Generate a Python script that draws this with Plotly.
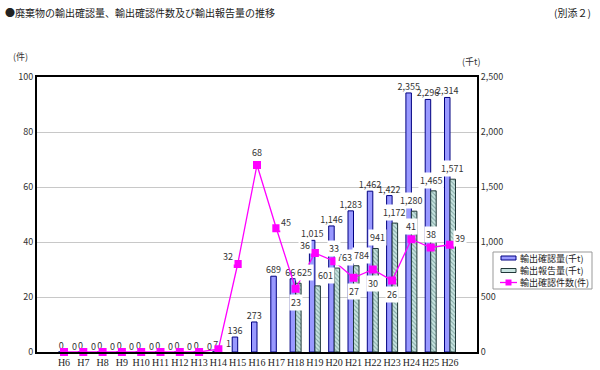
import plotly.graph_objects as go

years = ["H6", "H7", "H8", "H9", "H10", "H11", "H12", "H13", "H14", "H15", "H16",
         "H17", "H18", "H19", "H20", "H21", "H22", "H23", "H24", "H25", "H26"]
confirmed_kt = [0, 0, 0, 0, 0, 0, 0, 0, 7, 136, 273, 689, 666, 1015, 1146, 1283,
                1462, 1422, 2355, 2296, 2314]
reported_kt = [None, None, None, None, None, None, None, None, None, None, None, None,
               625, 601, 763, 784, 941, 1172, 1280, 1465, 1571]
cases = [0, 0, 0, 0, 0, 0, 0, 0, 1, 32, 68, 45, 23, 36, 33, 27, 30, 26, 41, 38, 39]
series_names = ["輸出確認量(千t)", "輸出報告量(千t)", "輸出確認件数(件)"]

# label placement (style only)
case_label_side = ["right"] * 9 + ["left", "top", "right", "bottom", "left", "top",
                                   "bottom", "bottom", "bottom", "top", "top", "right"]
side_shift = {"right": (10, 6), "left": (-10, 8), "top": (0, 13), "bottom": (0, -14)}
report_label_dx = [None] * 12 + [9, 11, 10, 8, 5, 2, 0, 0, 2]

FONT = "Noto Sans CJK JP"
BLUE, BLUE_EDGE = "#9999FF", "#000080"
TEAL, TEAL_EDGE = "#C8E4E0", "#203838"
MAGENTA = "#FF00FF"

# plot-area geometry in pixels (for converting legend box positions)
L, R, T, B, W, H = 37, 123, 77, 18, 600, 370
PW, PH = W - L - R, H - T - B


def px(x):
    return (x - L) / PW


def py(y):
    return (H - B - y) / PH


fig = go.Figure()
fig.add_trace(go.Bar(
    x=years, y=confirmed_kt, name=series_names[0], yaxis="y",
    marker=dict(color=BLUE, line=dict(color=BLUE_EDGE, width=1)),
    text=[f"{v:,}" for v in confirmed_kt], textposition="outside",
    textfont=dict(size=9, color="#333333", family=FONT), constraintext="none",
    cliponaxis=False,
))
fig.add_trace(go.Bar(
    x=years, y=reported_kt, name=series_names[1], yaxis="y",
    marker=dict(color=TEAL, line=dict(color=TEAL_EDGE, width=1),
                pattern=dict(shape="\\", fgcolor="#3E6B68", bgcolor=TEAL,
                             size=3, solidity=0.35)),
))
fig.add_trace(go.Scatter(
    x=years, y=cases, name=series_names[2], yaxis="y2", mode="lines+markers",
    line=dict(color=MAGENTA, width=1.3),
    marker=dict(symbol="square", size=8, color=MAGENTA),
    cliponaxis=False,
))

annotations = []
for x, v, dx in zip(years, reported_kt, report_label_dx):
    if v is None:
        continue
    annotations.append(dict(x=x, y=v, xref="x", yref="y", text=f"{v:,}",
                            showarrow=False, xshift=dx, yanchor="bottom", yshift=2,
                            bgcolor="white", borderpad=1,
                            font=dict(size=9, color="#333333", family=FONT)))
for x, v, side in zip(years, cases, case_label_side):
    dx, dy = side_shift[side]
    annotations.append(dict(x=x, y=v, xref="x", yref="y2", text=str(v),
                            showarrow=False, xshift=dx, yshift=dy,
                            bgcolor="white" if v > 1 else "rgba(0,0,0,0)", borderpad=1,
                            font=dict(size=9, color="#333333", family=FONT)))

annotations += [
    dict(x=px(3), y=py(3), xref="paper", yref="paper", xanchor="left", yanchor="top",
         showarrow=False, text="●廃棄物の輸出確認量、輸出確認件数及び輸出報告量の推移",
         font=dict(size=10, color="#222222", family=FONT)),
    dict(x=px(593), y=py(3), xref="paper", yref="paper", xanchor="right", yanchor="top",
         showarrow=False, text="(別添２)",
         font=dict(size=10, color="#222222", family=FONT)),
    dict(x=px(20), y=py(57), xref="paper", yref="paper", xanchor="center",
         yanchor="middle", showarrow=False, text="(件)",
         font=dict(size=9, color="#333333", family=FONT)),
    dict(x=px(471), y=py(61), xref="paper", yref="paper", xanchor="center",
         yanchor="middle", showarrow=False, text="(千t)",
         font=dict(size=9, color="#333333", family=FONT)),
]

# custom compact legend (box, swatches, labels)
shapes = [dict(type="rect", xref="paper", yref="paper", x0=px(493), x1=px(592),
               y0=py(289), y1=py(252), line=dict(color="#999999", width=1),
               fillcolor="white", layer="above")]
rows = [258, 270.5, 282.5]
shapes.append(dict(type="rect", xref="paper", yref="paper", x0=px(501), x1=px(516),
                   y0=py(rows[0] + 2), y1=py(rows[0] - 2), fillcolor=BLUE,
                   line=dict(color=BLUE_EDGE, width=1), layer="above"))
shapes.append(dict(type="rect", xref="paper", yref="paper", x0=px(501), x1=px(516),
                   y0=py(rows[1] + 2), y1=py(rows[1] - 2), fillcolor=TEAL,
                   line=dict(color=TEAL_EDGE, width=1), layer="above"))
shapes.append(dict(type="line", xref="paper", yref="paper", x0=px(500), x1=px(517),
                   y0=py(rows[2]), y1=py(rows[2]), line=dict(color=MAGENTA, width=1.3),
                   layer="above"))
shapes.append(dict(type="rect", xref="paper", yref="paper", x0=px(505.5), x1=px(511.5),
                   y0=py(rows[2] + 3), y1=py(rows[2] - 3), fillcolor=MAGENTA,
                   line=dict(color=MAGENTA, width=0), layer="above"))
for name, ry in zip(series_names, rows):
    annotations.append(dict(x=px(518), y=py(ry), xref="paper", yref="paper",
                            xanchor="left", yanchor="middle", showarrow=False,
                            text=name, font=dict(size=9, color="#222222", family=FONT)))

fig.update_layout(
    width=W, height=H,
    margin=dict(l=L, r=R, t=T, b=B, autoexpand=False),
    paper_bgcolor="white", plot_bgcolor="white",
    barmode="group", bargap=0.43, bargroupgap=0,
    showlegend=False,
    xaxis=dict(showline=True, linecolor="black", linewidth=2, mirror=True,
               tickfont=dict(size=10, color="#222222", family="Liberation Serif"),
               ticks="", showgrid=False, tickangle=0, automargin=False),
    yaxis=dict(side="right", range=[0, 2500], dtick=500, tickformat=",",
               showgrid=True, gridcolor="#C8C8C8", gridwidth=1,
               showline=True, linecolor="black", linewidth=2,
               tickfont=dict(size=9, color="#333333", family=FONT), ticks="",
               zeroline=False, automargin=False),
    yaxis2=dict(side="left", overlaying="y", range=[0, 100], dtick=20,
                showgrid=False, showline=True, linecolor="black", linewidth=2,
                tickfont=dict(size=9, color="#333333", family=FONT), ticks="",
                zeroline=False, automargin=False),
    annotations=annotations,
    shapes=shapes,
)

fig.write_html("out.html", config={"displayModeBar": False},
               post_script="document.body.style.margin='0';")
